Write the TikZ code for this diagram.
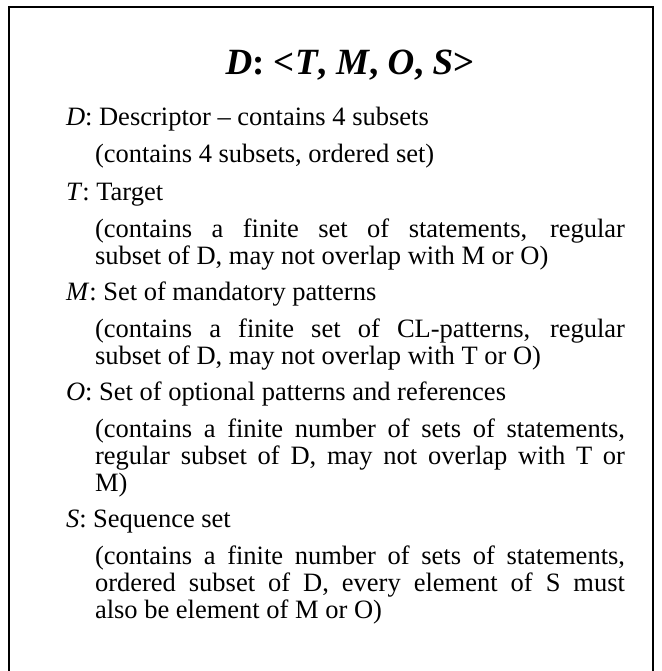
\documentclass[tikz,border=0pt]{standalone}
\usepackage{fontspec}
\setmainfont{Liberation Serif}
\begin{document}
\begin{tikzpicture}[x=1pt,y=-1pt,
  txt/.style={anchor=base west,inner sep=0pt,outer sep=0pt,font=\fontsize{26.5}{27}\selectfont},
  ttl/.style={anchor=base,inner sep=0pt,font=\fontsize{37}{40}\selectfont\bfseries}]
\useasboundingbox (0,0) rectangle (661,671);
\coordinate (bl) at (9,680);
\coordinate (tl) at (9,7);
\coordinate (tr) at (653,7);
\coordinate (br) at (653,680);
\draw[line width=2pt] (bl) -- (tl) -- (tr) -- (br);
\def\jw{530pt}
\node[ttl] (title) at (350,75) {\textit{D}: <\textit{T}, \textit{M}, \textit{O}, \textit{S}>};
\node[txt] (l1) at (66,126) {\textit{D}: Descriptor – contains 4 subsets};
\node[txt] (l2) at (95,163) {(contains 4 subsets, ordered set)};
\node[txt] (l3) at (66,200) {\textit{T}: Target};
\node[txt] (l4) at (95,237) {\makebox[\jw][s]{(contains a finite set of statements, regular}};
\node[txt] (l5) at (95,264) {subset of D, may not overlap with M or O)};
\node[txt] (l6) at (66,300) {\textit{M}: Set of mandatory patterns};
\node[txt] (l7) at (95,337) {\makebox[\jw][s]{(contains a finite set of CL-patterns, regular}};
\node[txt] (l8) at (95,364) {subset of D, may not overlap with T or O)};
\node[txt] (l9) at (66,400) {\textit{O}: Set of optional patterns and references};
\node[txt] (l10) at (95,437) {\makebox[\jw][s]{(contains a finite number of sets of statements,}};
\node[txt] (l11) at (95,464) {\makebox[\jw][s]{regular subset of D, may not overlap with T or}};
\node[txt] (l12) at (95,491) {M)};
\node[txt] (l13) at (66,527) {\textit{S}: Sequence set};
\node[txt] (l14) at (95,564) {\makebox[\jw][s]{(contains a finite number of sets of statements,}};
\node[txt] (l15) at (95,591) {\makebox[\jw][s]{ordered subset of D, every element of S must}};
\node[txt] (l16) at (95,618) {also be element of M or O)};
\end{tikzpicture}
\end{document}
